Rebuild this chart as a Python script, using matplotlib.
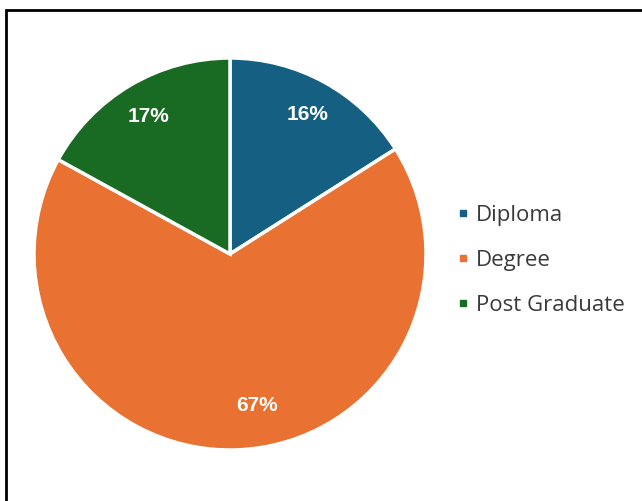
import matplotlib.pyplot as plt
from matplotlib.patches import Rectangle

# Доли по уровню образования
categories = ["Diploma", "Degree", "Post Graduate"]
shares = [16, 67, 17]
colors = ["#156082", "#E97132", "#196B24"]

plt.rcParams['font.family'] = ['Open Sans', 'DejaVu Sans']

fig = plt.figure(figsize=(6.42, 5.02), dpi=100)
ax = fig.add_axes([34 / 642, 1 - 451 / 502, 392 / 642, 392 / 502])

wedges, texts, autotexts = ax.pie(
    shares, colors=colors, startangle=90, counterclock=False,
    autopct=lambda p: f"{p:.0f}%", pctdistance=0.82,
    wedgeprops=dict(edgecolor="white", linewidth=2.5),
    textprops=dict(color="white", fontsize=15, fontweight="bold",
                   family=["Liberation Sans", "DejaVu Sans"]),
)
# подпись большой доли чуть сдвигаем вправо-вверх
x, y = autotexts[1].get_position()
autotexts[1].set_position((x + 0.11, y + 0.05))

ax.set_xlim(-1, 1)
ax.set_ylim(-1, 1)
ax.set_aspect("equal")

# Легенда справа, маленькие квадратные маркеры
handles = [plt.Line2D([], [], marker="s", linestyle="", markersize=5, color=c) for c in colors]
leg = fig.legend(handles, categories, loc="center left", bbox_to_anchor=(456 / 642, 1 - 261 / 502),
                 frameon=False, fontsize=16, labelspacing=1.08, handletextpad=0.3,
                 handlelength=0.6, borderpad=0, borderaxespad=0, labelcolor="#3a3a3a")

# Рамка вокруг картинки (обрезана справа и снизу)
fig.patches.append(Rectangle((6 / 642, -0.1), 1.2, 1 - 11 / 502 + 0.1, transform=fig.transFigure,
                             fill=False, edgecolor="black", linewidth=2, clip_on=False))

fig.savefig("out.png", dpi=100)
